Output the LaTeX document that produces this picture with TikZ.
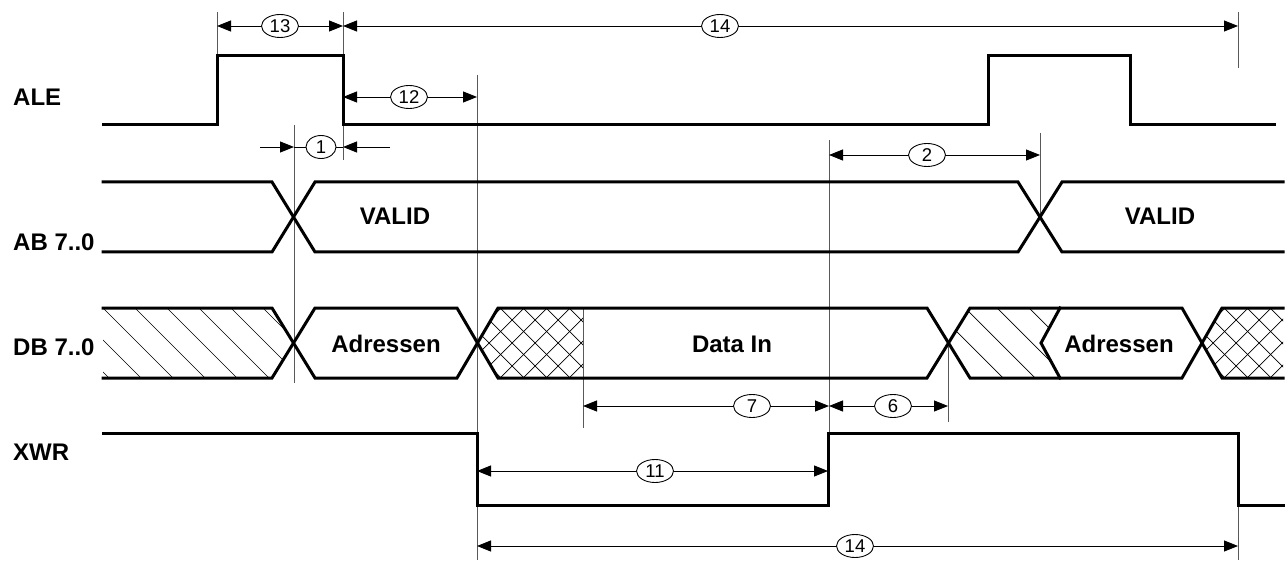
\documentclass[tikz,border=0pt]{standalone}
\usepackage{fontspec}
\setmainfont{Liberation Sans}
\usetikzlibrary{arrows.meta,shapes.geometric}
\begin{document}
\begin{tikzpicture}[x=1pt,y=-1pt,
  sig/.style={line width=3pt, line join=miter, line cap=rect},
  extline/.style={line width=0.8pt, black!65},
  dimline/.style={line width=0.9pt, {Triangle[length=14pt,width=11pt]}-{Triangle[length=14pt,width=11pt]}},
  dimhalf/.style={line width=0.9pt, -{Triangle[length=14pt,width=11pt]}},
  dimlab/.style={ellipse, draw, line width=0.9pt, fill=white, minimum width=37pt, minimum height=23pt, inner sep=0pt, font=\fontsize{18.5}{18.5}\selectfont},
  siglab/.style={anchor=west, font=\bfseries\fontsize{24}{24}\selectfont, inner sep=0pt},
  buslab/.style={font=\bfseries\fontsize{24}{24}\selectfont, inner sep=0pt},
  hatch/.style={line width=0.7pt}]
\useasboundingbox (0,0) rectangle (1287,561);

% signal names
\node[siglab] (lALE) at (13,97) {ALE};
\node[siglab] (lAB) at (13,242) {AB 7..0};
\node[siglab] (lDB) at (13,347) {DB 7..0};
\node[siglab] (lXWR) at (13,452) {XWR};

% hatching
\begin{scope}
  \clip (103,308) -- (272,308) -- (294,343) -- (272,378) -- (103,378) -- cycle;
  \foreach \x in {7,39,...,263} \draw[hatch] (\x,308) -- ++(70,70);
\end{scope}
\begin{scope}
  \clip (948,343) -- (970,308) -- (1060,308) -- (1041,343) -- (1060,378) -- (970,378) -- cycle;
  \foreach \x in {869,901,...,1029} \draw[hatch] (\x,308) -- ++(70,70);
\end{scope}
\begin{scope}
  \clip (477,343) -- (498,308) -- (583,308) -- (583,378) -- (498,378) -- cycle;
  \foreach \x in {408,431,...,600} {\draw[hatch] (\x,308) -- ++(70,70); \draw[hatch] (\x,378) -- ++(70,-70);}
\end{scope}
\begin{scope}
  \clip (1203,343) -- (1222,308) -- (1283,308) -- (1283,378) -- (1222,378) -- cycle;
  \foreach \x in {1132,1155,...,1290} {\draw[hatch] (\x,308) -- ++(70,70); \draw[hatch] (\x,378) -- ++(70,-70);}
\end{scope}

% extension lines
\draw[extline] (217,12) -- (217,56);
\draw[extline] (343,12) -- (343,160);
\draw[extline] (1238,12) -- (1238,68);
\draw[extline] (477,75) -- (477,560);
\draw[extline] (294,125) -- (294,383);
\draw[extline] (829,140) -- (829,505);
\draw[extline] (1040,133) -- (1040,217);
\draw[extline] (948,343) -- (948,422);
\draw[extline] (583,308) -- (583,428);
\draw[extline] (1238,433) -- (1238,560);

% signals
\draw[sig] (103,125) -- (217,125) -- (217,56) -- (343,56) -- (343,125) -- (988,125) -- (988,56) -- (1130,56) -- (1130,125) -- (1274,125);
\draw[sig] (103,182) -- (272,182) -- (315,252) -- (1018,252) -- (1062,182) -- (1283,182);
\draw[sig] (103,252) -- (272,252) -- (315,182) -- (1018,182) -- (1062,252) -- (1283,252);
\draw[sig] (103,308) -- (272,308) -- (315,378) -- (457,378) -- (498,308) -- (927,308) -- (970,378) -- (1182,378) -- (1222,308) -- (1283,308);
\draw[sig] (103,378) -- (272,378) -- (315,308) -- (457,308) -- (498,378) -- (927,378) -- (970,308) -- (1182,308) -- (1222,378) -- (1283,378);
\draw[sig] (1060,308) -- (1041,343) -- (1060,378);
\draw[sig] (103,433) -- (477,433) -- (477,505) -- (828,505) -- (828,433) -- (1238,433) -- (1238,505) -- (1283,505);

% bus texts
\node[buslab] (tV1) at (395,216) {VALID};
\node[buslab] (tV2) at (1160,216) {VALID};
\node[buslab] (tA1) at (386,344) {Adressen};
\node[buslab] (tD) at (732,344) {Data In};
\node[buslab] (tA2) at (1119,344) {Adressen};

% dimension coordinates
\coordinate (a13) at (217,26); \coordinate (b13) at (343,26);
\coordinate (b14) at (1238,26);
\coordinate (a12) at (343,97); \coordinate (b12) at (477,97);
\coordinate (o1a) at (260,147); \coordinate (a1) at (294,147);
\coordinate (o1b) at (390,147); \coordinate (b1) at (343,147);
\coordinate (a2) at (829,155); \coordinate (b2) at (1040,155);
\coordinate (a7) at (583,406); \coordinate (b7) at (829,406);
\coordinate (b6) at (948,406);
\coordinate (a11) at (477,471); \coordinate (b11) at (828,471);
\coordinate (a14) at (477,546); \coordinate (c14) at (1238,546);

\draw[dimline] (a13) -- (b13);
\draw[dimline] (b13) -- (b14);
\draw[dimline] (a12) -- (b12);
\draw[dimhalf] (o1a) -- (a1);
\draw[dimhalf] (o1b) -- (b1);
\draw[line width=0.9pt] (a1) -- (b1);
\draw[dimline] (a2) -- (b2);
\draw[dimline] (a7) -- (b7);
\draw[dimline] (b7) -- (b6);
\draw[dimline] (a11) -- (b11);
\draw[dimline] (a14) -- (c14);

\node[dimlab] (n13) at (280,26) {13};
\node[dimlab] (n14) at (720,26) {14};
\node[dimlab] (n12) at (409,97) {12};
\node[dimlab, minimum width=30pt] (n1) at (321,147) {1};
\node[dimlab] (n2) at (927,155) {2};
\node[dimlab] (n7) at (752,406) {7};
\node[dimlab] (n6) at (893,406) {6};
\node[dimlab] (n11) at (655,471) {11};
\node[dimlab] (n14b) at (855,546) {14};
\end{tikzpicture}
\end{document}
